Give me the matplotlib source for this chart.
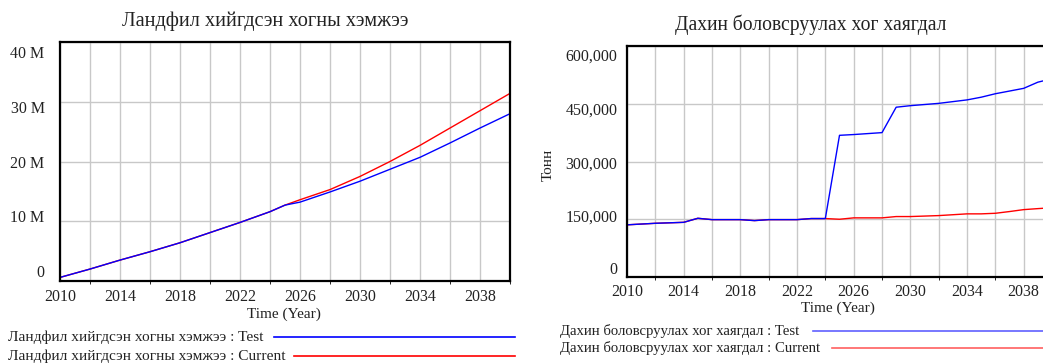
import matplotlib
matplotlib.use('Agg')
import matplotlib.pyplot as plt
import matplotlib.transforms as mtransforms
from matplotlib.lines import Line2D
import numpy as np

# landfill amount (million tonnes)
years_l = [2010, 2012, 2014, 2016, 2018, 2020, 2022, 2024, 2025, 2026, 2028, 2030, 2032, 2034, 2036, 2038, 2040]
landfill_test = [0.6, 2.0, 3.5, 4.9, 6.4, 8.1, 9.8, 11.6, 12.7, 13.2, 14.9, 16.7, 18.7, 20.7, 23.1, 25.6, 28.0]
landfill_current = [0.6, 2.0, 3.5, 4.9, 6.4, 8.1, 9.8, 11.6, 12.7, 13.6, 15.3, 17.5, 20.0, 22.7, 25.6, 28.5, 31.4]

# recycled waste (tonnes)
years_r = [2010, 2012, 2014, 2015, 2016, 2018, 2019, 2020, 2022, 2023, 2024, 2025, 2026, 2028,
           2029, 2030, 2032, 2034, 2035, 2036, 2037, 2038, 2039, 2040]
recycle_test = [135500, 139500, 142000, 152500, 149000, 149000, 146500, 149000, 149000, 151800, 151800,
                368000, 370000, 375000, 441000, 445000, 451000, 460000, 467000, 476000, 483000,
                490000, 506000, 515000]
recycle_current = [135500, 139500, 142000, 152500, 149000, 149000, 146500, 149000, 149000, 151800, 151800,
                   150000, 153600, 153600, 157000, 157000, 159500, 164000, 164000, 165500, 170000,
                   175000, 177600, 180000]

title_l = 'Ландфил хийгдсэн хогны хэмжээ'
title_r = 'Дахин боловсруулах хог хаягдал'

plt.rcParams['font.family'] = ['Liberation Serif', 'DejaVu Serif']
W, H = 1043, 363
fig = plt.figure(figsize=(W / 100, H / 100), dpi=100)

def px(x0, y0, x1, y1):
    return [x0 / W, 1 - y1 / H, (x1 - x0) / W, (y1 - y0) / H]

def style(ax, ypad, xpad):
    ax.grid(True, color='#c8c8c8', linewidth=1)
    ax.set_axisbelow(True)
    for s in ax.spines.values():
        s.set_linewidth(1.6)
        s.set_color('black')
    ax.tick_params(length=0, labelsize=11.5, colors='#222222')
    ax.tick_params(axis='y', pad=ypad)
    ax.tick_params(axis='x', pad=xpad)
    ax.set_xticks(np.arange(2010, 2041, 4))
    ax.set_xticks(np.arange(2010, 2041, 2), minor=True)
    ax.grid(True, which='minor', axis='x', color='#c8c8c8', linewidth=1)
    ax.set_xlim(2010, 2040)

def shift_ylabels(ax, shifts):
    # Vensim-style: outer labels pulled inward
    for lab, dy in zip(ax.get_yticklabels(), shifts):
        off = mtransforms.ScaledTranslation(0, -dy / 100, fig.dpi_scale_trans)
        lab.set_transform(lab.get_transform() + off)

# left panel
ax1 = fig.add_axes(px(60, 42, 510, 281))
ax1.plot(years_l, landfill_current, color='red', lw=1)
ax1.plot(years_l, landfill_test, color='blue', lw=1)
ax1.set_ylim(0, 40)
ax1.set_yticks([0, 10, 20, 30, 40])
ax1.set_yticklabels(['0', '10 M', '20 M', '30 M', '40 M'])
style(ax1, 11, 6)
shift_ylabels(ax1, [-10, -5, 0, 5, 10])

# right panel (cut off at the figure edge)
ax2 = fig.add_axes(px(627, 46, 1052, 277))
ax2.plot(years_r, recycle_current, color='red', lw=1)
ax2.plot(years_r, recycle_test, color='blue', lw=1)
ax2.set_ylim(0, 600000)
ax2.set_yticks([0, 150000, 300000, 450000, 600000])
ax2.set_yticklabels(['0', '150,000', '300,000', '450,000', '600,000'])
style(ax2, 7, 5)
shift_ylabels(ax2, [-9, -4, 1, 5, 9])

fig.text(265 / W, 1 - 21 / H, title_l, ha='center', va='center', fontsize=14.6, color='#222222')
fig.text(811 / W, 1 - 25 / H, title_r, ha='center', va='center', fontsize=14.1, color='#222222')
fig.text(284 / W, 1 - 314 / H, 'Time (Year)', ha='center', va='center', fontsize=11, color='#222222')
fig.text(838 / W, 1 - 308 / H, 'Time (Year)', ha='center', va='center', fontsize=11, color='#222222')
fig.text(548 / W, 1 - 165 / H, 'Тонн', ha='center', va='center', rotation=90, fontsize=11, color='#222222')

# legends: label followed by a line
legend_rows = [
    (8, 337, 274, 515, title_l + ' : Test', 'blue', 11.1),
    (8, 356, 294, 515, title_l + ' : Current', 'red', 11.1),
    (560, 331, 813, 1043, title_r + ' : Test', '#6060ff', 10.6),
    (560, 348, 832, 1043, title_r + ' : Current', '#ff6060', 10.6),
]
for tx, ty, lx0, lx1, label, c, fs in legend_rows:
    fig.text(tx / W, 1 - ty / H, label, ha='left', va='center', fontsize=fs, color='#222222')
    fig.add_artist(Line2D([lx0 / W, lx1 / W], [1 - ty / H, 1 - ty / H], color=c, lw=1.2))

fig.savefig('out.png', dpi=100)
